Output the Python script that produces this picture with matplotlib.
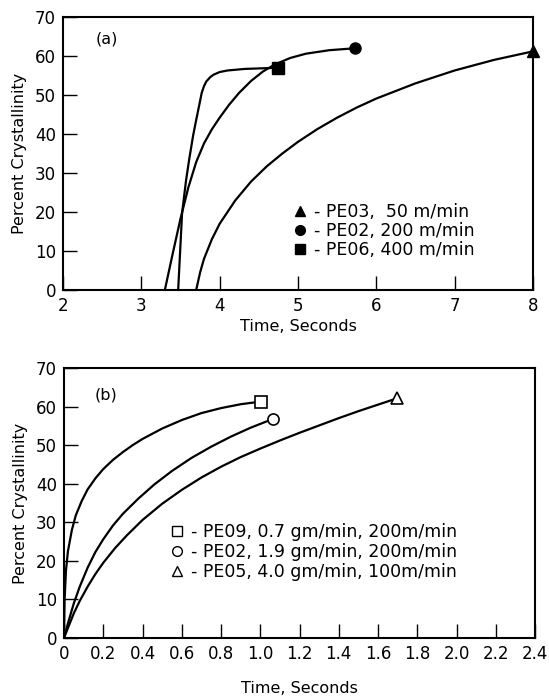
import matplotlib
matplotlib.use("Agg")
import matplotlib.pyplot as plt
from matplotlib.lines import Line2D

# ---- panel (a): effect of take-up speed ----
pe03_t = [3.70, 3.75, 3.80, 3.90, 4.00, 4.20, 4.40, 4.60, 4.80, 5.00, 5.25, 5.50,
          5.75, 6.00, 6.50, 7.00, 7.50, 8.00]
pe03_y = [0.0, 4.5, 8.0, 13.0, 17.0, 23.0, 27.8, 31.7, 35.0, 38.0, 41.3, 44.2,
          46.8, 49.1, 53.0, 56.3, 59.0, 61.2]

pe02a_t = [3.30, 3.40, 3.50, 3.60, 3.70, 3.80, 3.90, 4.00, 4.12, 4.25, 4.40,
           4.55, 4.70, 4.90, 5.10, 5.40, 5.73]
pe02a_y = [0.0, 9.3, 18.3, 26.3, 32.8, 37.6, 41.2, 44.2, 47.5, 50.6, 53.6,
           56.0, 57.8, 59.5, 60.6, 61.5, 62.0]

pe06_t = [3.47, 3.52, 3.57, 3.61, 3.66, 3.70, 3.74, 3.77, 3.80, 3.83, 3.88, 3.92,
          4.00, 4.10, 4.32, 4.75]
pe06_y = [0.0, 19.7, 28.0, 33.4, 39.5, 43.6, 47.5, 50.5, 52.3, 53.5, 54.6, 55.2,
          55.9, 56.3, 56.7, 57.0]

legend_a = ["- PE03,  50 m/min", "- PE02, 200 m/min", "- PE06, 400 m/min"]

# ---- panel (b): effect of throughput ----
pe09_t = [0.0, 0.003, 0.01, 0.02, 0.04, 0.06, 0.09, 0.12, 0.16, 0.20, 0.25, 0.30,
          0.35, 0.40, 0.50, 0.60, 0.70, 0.80, 0.90, 1.005]
pe09_y = [0.0, 10.0, 17.5, 22.5, 28.0, 31.8, 35.5, 38.5, 41.4, 43.8, 46.2, 48.2,
          50.0, 51.6, 54.3, 56.5, 58.3, 59.6, 60.6, 61.3]

pe02b_t = [0.0, 0.02, 0.05, 0.08, 0.12, 0.16, 0.20, 0.25, 0.30, 0.38, 0.46, 0.55,
           0.65, 0.75, 0.85, 0.95, 1.065]
pe02b_y = [0.0, 3.8, 9.0, 13.3, 18.2, 22.3, 25.6, 29.2, 32.2, 36.2, 39.8, 43.3,
           46.7, 49.6, 52.2, 54.5, 56.8]

pe05_t = [0.0, 0.02, 0.05, 0.08, 0.12, 0.16, 0.20, 0.26, 0.32, 0.40, 0.50, 0.60,
          0.70, 0.80, 0.90, 1.00, 1.10, 1.20, 1.30, 1.40, 1.50, 1.60, 1.695]
pe05_y = [0.0, 2.6, 6.4, 9.6, 13.3, 16.6, 19.5, 23.3, 26.6, 30.6, 34.8, 38.4,
          41.6, 44.4, 46.9, 49.1, 51.2, 53.2, 55.1, 57.0, 58.8, 60.5, 62.1]

legend_b = ["- PE09, 0.7 gm/min, 200m/min",
            "- PE02, 1.9 gm/min, 200m/min",
            "- PE05, 4.0 gm/min, 100m/min"]

xticks_b = [0, 0.2, 0.4, 0.6, 0.8, 1.0, 1.2, 1.4, 1.6, 1.8, 2.0, 2.2, 2.4]
xticklabels_b = ["0", "0.2", "0.4", "0.6", "0.8", "1.0", "1.2", "1.4", "1.6", "1.8", "2.0", "2.2", "2.4"]

FS = 12
LW = 1.6


def style_axes(ax):
    for s in ax.spines.values():
        s.set_linewidth(1.5)
    ax.tick_params(direction="in", length=10, width=1.0, labelsize=FS, pad=5,
                   top=False, right=False)
    ax.set_ylim(0, 70)
    ax.set_yticks(range(0, 71, 10))
    ax.set_ylabel("Percent Crystallinity", fontsize=11.5, labelpad=6)


fig = plt.figure(figsize=(5.49, 6.96), dpi=100)

# panel (a)
ax1 = fig.add_axes([0.1148, 0.5833, 0.856, 0.3922])
ax1.plot(pe03_t, pe03_y, color="black", lw=LW)
ax1.plot(pe02a_t, pe02a_y, color="black", lw=LW)
ax1.plot(pe06_t, pe06_y, color="black", lw=LW)
ax1.plot(pe03_t[-1], pe03_y[-1], "k^", ms=9, clip_on=False)
ax1.plot(pe02a_t[-1], pe02a_y[-1], "ko", ms=8, clip_on=False)
ax1.plot(pe06_t[-1], pe06_y[-1], "ks", ms=8, clip_on=False)
ax1.set_xlim(2, 8)
style_axes(ax1)
ax1.set_xlabel("Time, Seconds", fontsize=11.5, labelpad=3)
ax1.text(0.07, 0.92, "(a)", transform=ax1.transAxes, fontsize=11.5, va="center")
handles_a = [Line2D([], [], ls="none", marker=m, color="black", ms=7) for m in ["^", "o", "s"]]
ax1.legend(handles_a, legend_a, loc="upper left", bbox_to_anchor=(0.485, 0.32),
           frameon=False, fontsize=12.5, handlelength=1.0, handletextpad=0.35,
           labelspacing=0.06, borderpad=0, borderaxespad=0)

# panel (b)
ax2 = fig.add_axes([0.1166, 0.0833, 0.858, 0.388])
ax2.plot(pe09_t, pe09_y, color="black", lw=LW)
ax2.plot(pe02b_t, pe02b_y, color="black", lw=LW)
ax2.plot(pe05_t, pe05_y, color="black", lw=LW)
ax2.plot(pe09_t[-1], pe09_y[-1], "ks", ms=8, mfc="white", mew=1.2)
ax2.plot(pe02b_t[-1], pe02b_y[-1], "ko", ms=8, mfc="white", mew=1.2)
ax2.plot(pe05_t[-1], pe05_y[-1], "k^", ms=9, mfc="white", mew=1.2)
ax2.set_xlim(0, 2.4)
ax2.set_xticks(xticks_b)
ax2.set_xticklabels(xticklabels_b)
style_axes(ax2)
ax2.set_xlabel("Time, Seconds", fontsize=11.5, labelpad=13)
ax2.text(0.065, 0.90, "(b)", transform=ax2.transAxes, fontsize=11.5, va="center")
handles_b = [Line2D([], [], ls="none", marker=m, color="black", mfc="white", ms=7)
             for m in ["s", "o", "^"]]
ax2.legend(handles_b, legend_b, loc="upper left", bbox_to_anchor=(0.222, 0.425),
           frameon=False, fontsize=12.5, handlelength=1.0, handletextpad=0.3,
           labelspacing=0.12, borderpad=0, borderaxespad=0)

fig.savefig("out.png", dpi=100)
